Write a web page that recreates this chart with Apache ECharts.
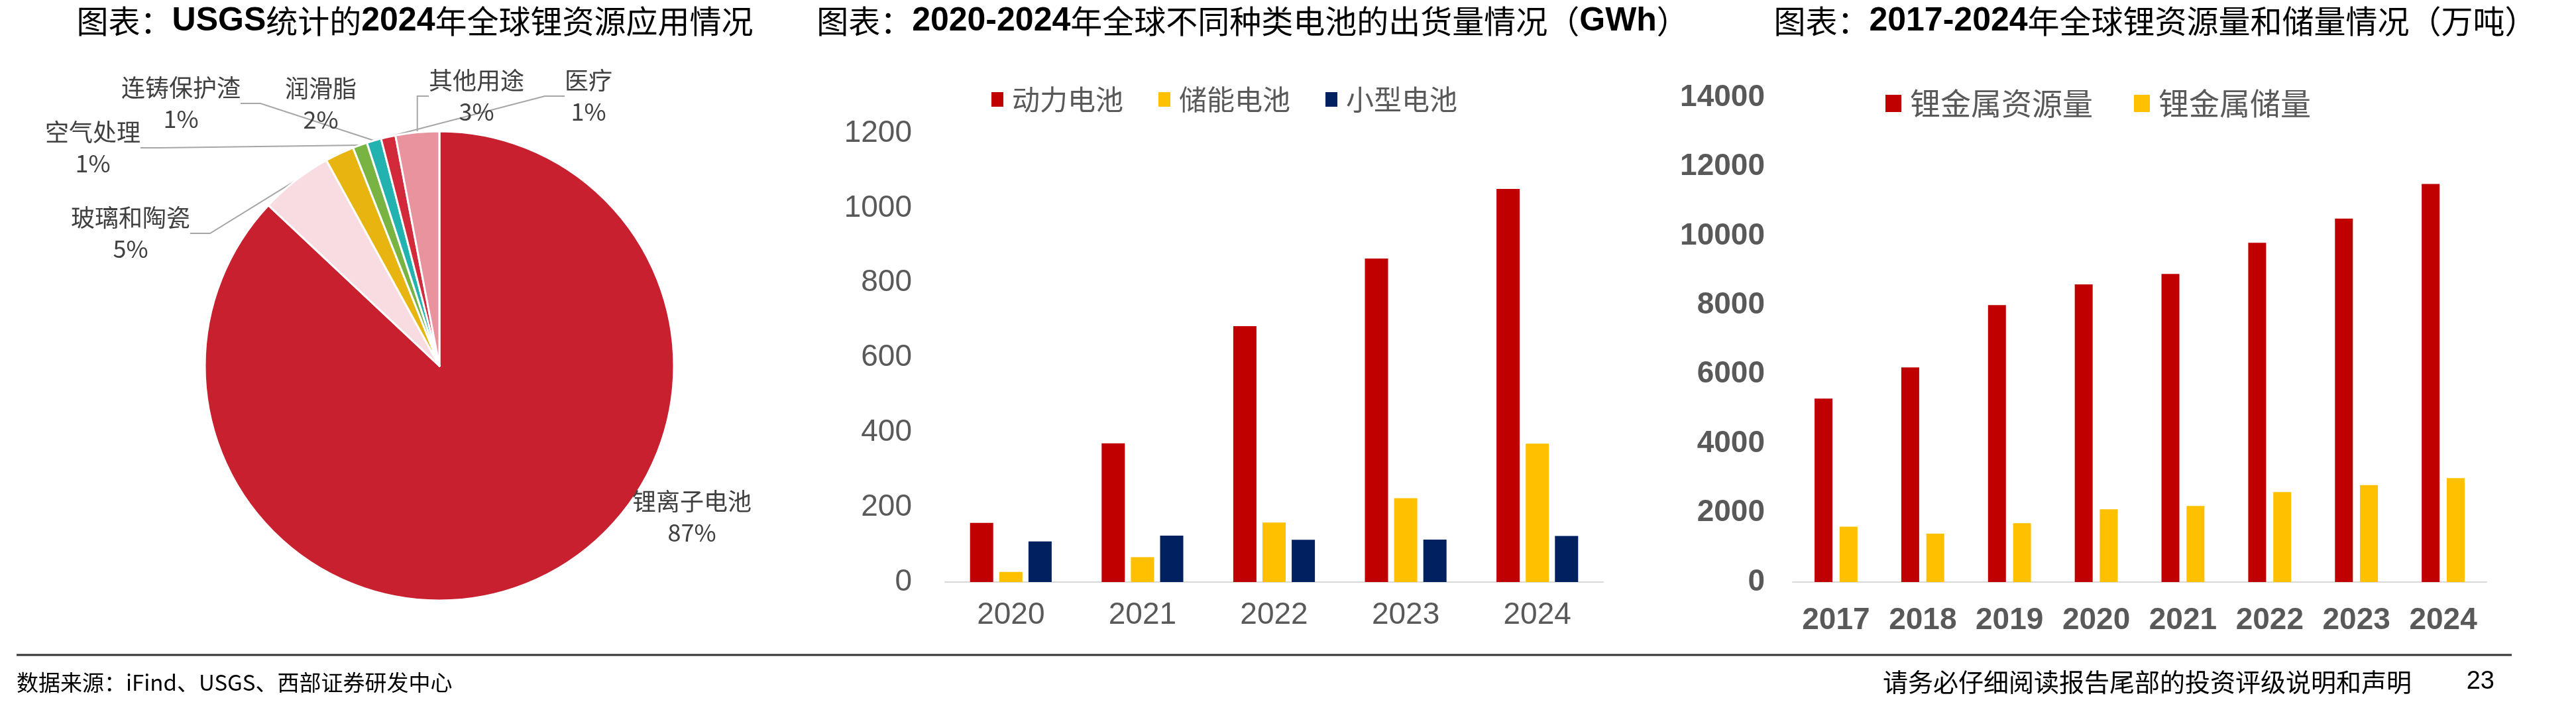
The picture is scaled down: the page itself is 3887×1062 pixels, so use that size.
<!DOCTYPE html>
<html>
<head>
<meta charset="utf-8">
<script src="https://cdn.jsdelivr.net/npm/echarts@6/dist/echarts.min.js"></script>
<style>
html, body { margin: 0; padding: 0; background: #fff; }
#main { width: 3887px; height: 1062px; }
</style>
</head>
<body>
<div id="main"></div>
<script>
// 饼图：USGS 2024年锂资源应用（%）
const useNames = ['锂离子电池', '玻璃和陶瓷', '润滑脂', '空气处理', '连铸保护渣', '医疗', '其他用途'];
const useShares = [87, 5, 2, 1, 1, 1, 3];

// 柱状图：全球电池出货量（GWh）
const batteryYears = ['2020', '2021', '2022', '2023', '2024'];
const powerBattery = [158.2, 371.0, 684.2, 865.2, 1051.2];
const storageBattery = [27.0, 66.3, 159.3, 224.2, 369.8];
const smallBattery = [108.4, 124.2, 113.2, 113.3, 123.2];

// 柱状图：全球锂资源量和储量（万吨）
const lithiumYears = ['2017', '2018', '2019', '2020', '2021', '2022', '2023', '2024'];
const lithiumResource = [5300, 6200, 8000, 8600, 8900, 9800, 10500, 11500];
const lithiumReserve = [1600, 1400, 1700, 2100, 2200, 2600, 2800, 3000];

// 饼图样式（颜色、标签位置、是否显示引导线）
const pieColors = ['#C8202F', '#F9DCE1', '#E8B40F', '#79B443', '#22B2B0', '#D22A3A', '#E9939F'];
const pieLabelPos = [[1044, 780], [197, 352], [484, 157], [140, 223], [273, 156], [888, 145], [719, 145]];
const pieLine = [false, true, false, true, true, true, true];

const CJK = '"Noto Sans CJK SC", sans-serif';
const LAT = '"Liberation Sans Narrow", "Liberation Sans", Arial, sans-serif';
const plain = v => String(v);

// 标题里的英文和数字用粗体
function titleText(s) {
    return s.replace(/[\x21-\x7e]+/g, m => '{a|' + m + '}');
}
function title(x, s) {
    return {
        type: 'text', x: x, y: 32,
        style: {
            text: titleText(s), fontFamily: CJK, fontSize: 48, fill: '#000',
            align: 'center', verticalAlign: 'middle',
            rich: { a: { fontFamily: '"Liberation Sans", Arial, sans-serif', fontWeight: 'bold', fontSize: 50, fill: '#000' } }
        }
    };
}

let chart = echarts.init(document.getElementById('main'));

let option = {
    backgroundColor: '#fff',
    animation: false,
    legend: [
        {
            data: ['动力电池', '储能电池', '小型电池'],
            left: 1491, top: 123,
            icon: 'rect', itemWidth: 18, itemHeight: 22, itemGap: 53,
            textStyle: { fontFamily: CJK, fontSize: 42, lineHeight: 44, color: '#595959', padding: [0, 0, 0, 8] }
        },
        {
            data: ['锂金属资源量', '锂金属储量'],
            left: 2840, top: 127,
            icon: 'rect', itemWidth: 24, itemHeight: 26, itemGap: 62,
            textStyle: { fontFamily: CJK, fontSize: 46, lineHeight: 48, color: '#595959', padding: [0, 0, 0, 8] }
        }
    ],
    grid: [
        { left: 1426, top: 201, width: 993, height: 677 },
        { left: 2705, top: 147, width: 1047, height: 731 }
    ],
    xAxis: [
        {
            type: 'category', gridIndex: 0, data: batteryYears,
            axisLine: { lineStyle: { color: '#d9d9d9', width: 2 } },
            axisTick: { length: 14, lineStyle: { color: '#d9d9d9', width: 2 } },
            axisLabel: { interval: 0, margin: 27, color: '#595959', fontFamily: LAT, fontSize: 46 }
        },
        {
            type: 'category', gridIndex: 1, data: lithiumYears,
            axisLine: { lineStyle: { color: '#d9d9d9', width: 2 } },
            axisTick: { length: 15, lineStyle: { color: '#d9d9d9', width: 2 } },
            axisLabel: { interval: 0, margin: 35, color: '#595959', fontFamily: '"Liberation Sans", Arial, sans-serif', fontWeight: 'bold', fontSize: 46 }
        }
    ],
    yAxis: [
        {
            type: 'value', gridIndex: 0, min: 0, max: 1200, interval: 200,
            splitLine: { show: false }, axisLine: { show: false }, axisTick: { show: false },
            axisLabel: { formatter: plain, margin: 50, color: '#595959', fontFamily: LAT, fontSize: 46 }
        },
        {
            type: 'value', gridIndex: 1, min: 0, max: 14000, interval: 2000,
            splitLine: { show: false }, axisLine: { show: false }, axisTick: { show: false },
            axisLabel: { formatter: plain, margin: 42, color: '#595959', fontFamily: '"Liberation Sans", Arial, sans-serif', fontWeight: 'bold', fontSize: 46 }
        }
    ],
    series: [
        {
            type: 'pie',
            center: [663, 552], radius: 354,
            startAngle: 90, clockwise: true,
            avoidLabelOverlap: false, percentPrecision: 0,
            itemStyle: { borderColor: '#fff', borderWidth: 3 },
            emphasis: { disabled: true },
            label: {
                formatter: '{b}\n{d}%', fontFamily: CJK, fontSize: 36, lineHeight: 47,
                color: '#404040', align: 'center'
            },
            labelLine: { lineStyle: { color: '#a6a6a6', width: 2 } },
            labelLayout: function (p) {
                return {
                    x: pieLabelPos[p.dataIndex][0], y: pieLabelPos[p.dataIndex][1],
                    align: 'center', verticalAlign: 'middle'
                };
            },
            data: useNames.map(function (n, i) {
                return {
                    name: n, value: useShares[i],
                    itemStyle: { color: pieColors[i] },
                    labelLine: { show: pieLine[i] }
                };
            })
        },
        { name: '动力电池', type: 'bar', xAxisIndex: 0, yAxisIndex: 0, data: powerBattery, barWidth: 35, barGap: '26%', itemStyle: { color: '#C00000' } },
        { name: '储能电池', type: 'bar', xAxisIndex: 0, yAxisIndex: 0, data: storageBattery, barWidth: 35, barGap: '26%', itemStyle: { color: '#FFC000' } },
        { name: '小型电池', type: 'bar', xAxisIndex: 0, yAxisIndex: 0, data: smallBattery, barWidth: 35, barGap: '26%', itemStyle: { color: '#002060' } },
        { name: '锂金属资源量', type: 'bar', xAxisIndex: 1, yAxisIndex: 1, data: lithiumResource, barWidth: 27, barGap: '40%', itemStyle: { color: '#C00000' } },
        { name: '锂金属储量', type: 'bar', xAxisIndex: 1, yAxisIndex: 1, data: lithiumReserve, barWidth: 27, barGap: '40%', itemStyle: { color: '#FFC000' } }
    ],
    graphic: [
        title(626, '图表：USGS统计的2024年全球锂资源应用情况'),
        title(1890, '图表：2020-2024年全球不同种类电池的出货量情况（GWh）'),
        title(3252, '图表：2017-2024年全球锂资源量和储量情况（万吨）'),
        { type: 'line', shape: { x1: 25, y1: 988, x2: 3790, y2: 988 }, style: { stroke: '#333', lineWidth: 3 } },
        {
            type: 'text', x: 25, y: 1029,
            style: { text: '数据来源：iFind、USGS、西部证券研发中心', fontFamily: CJK, fontSize: 33, fill: '#000', verticalAlign: 'middle' }
        },
        {
            type: 'text', x: 3639, y: 1029,
            style: { text: '请务必仔细阅读报告尾部的投资评级说明和声明', fontFamily: CJK, fontSize: 38, fill: '#000', align: 'right', verticalAlign: 'middle' }
        },
        {
            type: 'text', x: 3764, y: 1029,
            style: { text: '23', fontFamily: '"Liberation Sans", Arial, sans-serif', fontSize: 38, fill: '#000', align: 'right', verticalAlign: 'middle' }
        }
    ]
};

chart.setOption(option);
</script>
</body>
</html>
